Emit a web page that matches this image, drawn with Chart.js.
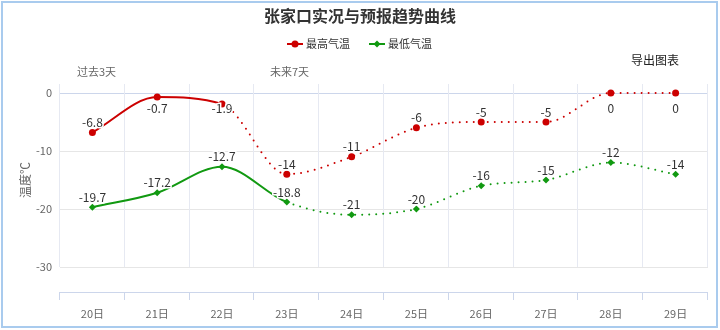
<!DOCTYPE html>
<html>
<head>
<meta charset="utf-8">
<script src="https://cdn.jsdelivr.net/npm/chart.js@4/dist/chart.umd.min.js"></script>
<style>
  body { margin: 0; background: #fff; }
  canvas { display: block; }
</style>
</head>
<body>
<canvas id="chart" width="720" height="330"></canvas>
<script>
const days = ['20日', '21日', '22日', '23日', '24日', '25日', '26日', '27日', '28日', '29日'];
const maxTemp = [-6.8, -0.7, -1.9, -14, -11, -6, -5, -5, 0, 0];
const minTemp = [-19.7, -17.2, -12.7, -18.8, -21, -20, -16, -15, -12, -14];
const yTicks = [0, -10, -20, -30];

const FONT = '"Noto Sans CJK SC", "Noto Sans", sans-serif';
const RED = '#cc0000';
const GREEN = '#119911';

// past days drawn solid, forecast dotted
function dotted(fromIndex) {
    return ctx => ctx.p0DataIndex >= fromIndex ? [0, 7] : [];
}

const decorations = {
    id: 'decorations',
    beforeDatasetsDraw(chart) {
        const { ctx, chartArea } = chart;
        const n = days.length;
        const step = (chartArea.right - chartArea.left) / n;
        ctx.save();
        // vertical grid lines
        ctx.strokeStyle = '#e6e9f2';
        ctx.lineWidth = 1;
        for (let i = 0; i <= n; i++) {
            const px = Math.round(chartArea.left + i * step) - 0.5;
            ctx.beginPath();
            ctx.moveTo(px, 84);
            ctx.lineTo(px, chartArea.bottom);
            ctx.stroke();
        }
        // x axis line with ticks
        ctx.strokeStyle = '#ccd6eb';
        ctx.beginPath();
        ctx.moveTo(chartArea.left, 292.5);
        ctx.lineTo(chartArea.right, 292.5);
        ctx.stroke();
        for (let i = 0; i <= n; i++) {
            const px = Math.round(chartArea.left + i * step) - 0.5;
            ctx.beginPath();
            ctx.moveTo(px, 292);
            ctx.lineTo(px, 300);
            ctx.stroke();
        }
        ctx.restore();
    },
    afterDraw(chart) {
        const { ctx, chartArea } = chart;
        ctx.save();
        // outer frame
        ctx.strokeStyle = '#a9cbee';
        ctx.lineWidth = 2;
        ctx.strokeRect(2, 2, 715, 325);

        // data labels
        ctx.font = '12px ' + FONT;
        ctx.fillStyle = '#333';
        ctx.textAlign = 'center';
        ctx.textBaseline = 'middle';
        chart.data.datasets.forEach((ds, di) => {
            chart.getDatasetMeta(di).data.forEach((pt, i) => {
                const y = Math.max(pt.y - 10, chartArea.top + 15);
                ctx.lineWidth = 3;
                ctx.strokeStyle = '#fff';
                ctx.strokeText(String(ds.data[i]), pt.x, y);
                ctx.fillText(String(ds.data[i]), pt.x, y);
            });
        });

        // title
        ctx.font = 'bold 16px ' + FONT;
        ctx.fillStyle = '#333';
        ctx.fillText('张家口实况与预报趋势曲线', 360, 16);

        // legend
        const items = [[RED, 'circle', '最高气温', 287], [GREEN, 'rectRot', '最低气温', 369]];
        items.forEach(([color, style, label, lx]) => {
            ctx.strokeStyle = color;
            ctx.fillStyle = color;
            ctx.lineWidth = 2;
            ctx.beginPath();
            ctx.moveTo(lx, 44);
            ctx.lineTo(lx + 16, 44);
            ctx.stroke();
            Chart.helpers.drawPoint(ctx, { pointStyle: style, radius: 3.5, borderWidth: 0 }, lx + 8, 44);
            ctx.fillStyle = '#333';
            ctx.font = '11px ' + FONT;
            ctx.textAlign = 'left';
            ctx.fillText(label, lx + 19, 44);
        });

        // side notes
        ctx.font = '12px ' + FONT;
        ctx.textAlign = 'left';
        ctx.fillStyle = '#222';
        ctx.fillText('导出图表', 631, 60);
        ctx.font = '11px ' + FONT;
        ctx.fillStyle = '#666';
        ctx.fillText('过去3天', 77, 72);
        ctx.fillText('未来7天', 270, 72);
        ctx.restore();
    }
};

new Chart(document.getElementById('chart'), {
    type: 'line',
    data: {
        labels: days,
        datasets: [
            {
                label: '最高气温',
                data: maxTemp,
                borderColor: RED,
                backgroundColor: RED,
                borderWidth: 2,
                borderCapStyle: 'round',
                pointStyle: 'circle',
                pointRadius: 3.5,
                pointBorderWidth: 0,
                cubicInterpolationMode: 'monotone',
                clip: false,
                segment: { borderDash: dotted(2) }
            },
            {
                label: '最低气温',
                data: minTemp,
                borderColor: GREEN,
                backgroundColor: GREEN,
                borderWidth: 2,
                borderCapStyle: 'round',
                pointStyle: 'rectRot',
                pointRadius: 3.5,
                pointBorderWidth: 0,
                cubicInterpolationMode: 'monotone',
                clip: false,
                segment: { borderDash: dotted(3) }
            }
        ]
    },
    options: {
        responsive: false,
        animation: false,
        layout: { padding: { top: 93, right: 12, left: 0, bottom: 0 } },
        plugins: {
            legend: { display: false },
            title: { display: false },
            tooltip: { enabled: false }
        },
        scales: {
            x: {
                offset: true,
                grid: { display: false },
                border: { display: false },
                ticks: {
                    color: '#666',
                    padding: 32,
                    font: { size: 11, family: FONT }
                },
                afterFit: s => { s.height = 63; }
            },
            y: {
                min: -30,
                max: 0,
                afterBuildTicks: s => { s.ticks = yTicks.map(v => ({ value: v })); },
                grid: {
                    drawTicks: false,
                    color: c => c.tick && c.tick.value === 0 ? '#ccd6eb' : '#e6e6e6'
                },
                border: { display: false },
                ticks: {
                    color: '#666',
                    padding: 8,
                    font: { size: 11, family: FONT }
                },
                title: {
                    display: true,
                    text: '温度℃',
                    color: '#666',
                    padding: { top: 18, bottom: 0 },
                    font: { size: 12, family: FONT }
                },
                afterFit: s => { s.width = 60; }
            }
        }
    },
    plugins: [decorations]
});
</script>
</body>
</html>
